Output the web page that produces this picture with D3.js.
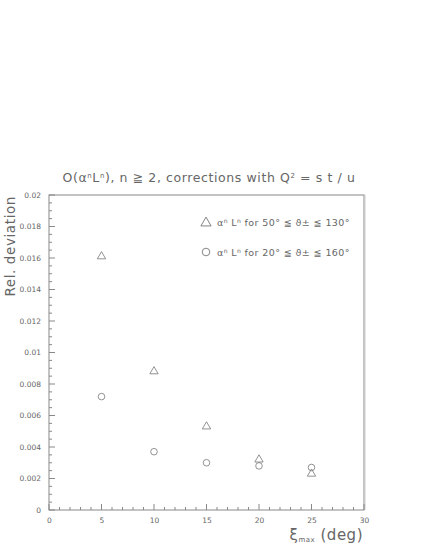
<!DOCTYPE html>
<html>
<head>
<meta charset="utf-8">
<script src="https://cdn.jsdelivr.net/npm/d3@7"></script>
<style>
  body { margin: 0; background: #fff; }
  text { font-family: "DejaVu Sans", sans-serif; fill: #666; }
</style>
</head>
<body>
<svg id="chart" width="425" height="550"></svg>
<script>
// data
var xiMax = [5, 10, 15, 20, 25];
var devNarrow = [0.0161, 0.0088, 0.0053, 0.0032, 0.0023];   // triangles, 50..130 deg
var devWide = [0.0072, 0.0037, 0.0030, 0.0028, 0.0027];     // circles, 20..160 deg
var xTicks = [0, 5, 10, 15, 20, 25, 30];
var yTicks = [0, 0.002, 0.004, 0.006, 0.008, 0.01, 0.012, 0.014, 0.016, 0.018, 0.02];

var svg = d3.select("#chart");
var pl = 49, pr = 364, pt = 195, pb = 510;
var ink = "#888";

var x = d3.scaleLinear().domain([0, 30]).range([pl, pr]);
var y = d3.scaleLinear().domain([0, 0.02]).range([pb, pt]);

// frame
svg.append("rect")
  .attr("x", pl).attr("y", pt)
  .attr("width", pr - pl).attr("height", pb - pt)
  .attr("fill", "none").attr("stroke", ink).attr("stroke-width", 1);
svg.append("line")
  .attr("x1", pr + 1).attr("x2", pr + 1).attr("y1", pt).attr("y2", pb)
  .attr("stroke", "#ccc");

// minor ticks (inside the frame)
var xMinor = d3.range(0, 31, 1);
svg.selectAll(".xminor").data(xMinor).enter().append("line")
  .attr("x1", d => x(d)).attr("x2", d => x(d))
  .attr("y1", pb).attr("y2", d => d % 5 == 0 ? pb - 6 : pb - 3)
  .attr("stroke", ink);
var yMinor = d3.range(0, 41).map(i => i * 0.0005);
svg.selectAll(".yminor").data(yMinor).enter().append("line")
  .attr("y1", d => y(d)).attr("y2", d => y(d))
  .attr("x1", pl).attr("x2", (d, i) => i % 4 == 0 ? pl + 6 : pl + 3)
  .attr("stroke", ink);

// tick labels through axes, domain and tick lines hidden
var xAxis = svg.append("g")
  .attr("transform", "translate(0," + pb + ")")
  .call(d3.axisBottom(x).tickValues(xTicks).tickSize(0).tickPadding(8).tickFormat(d3.format("d")));
var yAxis = svg.append("g")
  .attr("transform", "translate(" + pl + ",0)")
  .call(d3.axisLeft(y).tickValues(yTicks).tickSize(0).tickPadding(8).tickFormat(d => d == 0 ? "0" : String(+d.toFixed(4))));
[xAxis, yAxis].forEach(function(a){
  a.select(".domain").remove();
  a.selectAll("text").attr("font-size", 7.5).attr("fill", "#777").attr("font-family", "DejaVu Sans, sans-serif");
});

// triangles
var tri = d3.symbol().type(d3.symbolTriangle).size(30);
svg.selectAll(".tri").data(xiMax).enter().append("path")
  .attr("d", tri)
  .attr("transform", (d, i) => "translate(" + x(d) + "," + y(devNarrow[i]) + ")")
  .attr("fill", "none").attr("stroke", "#777").attr("stroke-width", 0.8);

// circles
svg.selectAll(".circ").data(xiMax).enter().append("circle")
  .attr("cx", d => x(d))
  .attr("cy", (d, i) => y(devWide[i]))
  .attr("r", 3.3)
  .attr("fill", "none").attr("stroke", "#777").attr("stroke-width", 0.8);

// title
var title = svg.append("text")
  .attr("x", 209).attr("y", 182)
  .attr("text-anchor", "middle").attr("font-size", 12.5)
  .attr("letter-spacing", 0.6);
title.append("tspan").text("O(\u03b1");
title.append("tspan").attr("dy", -4).attr("font-size", 7).text("n");
title.append("tspan").attr("dy", 4).text("L");
title.append("tspan").attr("dy", -4).attr("font-size", 7).text("n");
title.append("tspan").attr("dy", 4).text("), n \u2267 2, corrections with Q");
title.append("tspan").attr("dy", -4).attr("font-size", 7).text("2");
title.append("tspan").attr("dy", 4).text(" = s t / u");

// axis titles
svg.append("text")
  .attr("transform", "translate(15,196) rotate(-90)")
  .attr("text-anchor", "end").attr("font-size", 13.5).attr("letter-spacing", 0.6)
  .text("Rel. deviation");

var xt = svg.append("text")
  .attr("x", 363).attr("y", 540)
  .attr("text-anchor", "end").attr("font-size", 15).attr("letter-spacing", 0.5);
xt.append("tspan").text("\u03be");
xt.append("tspan").attr("font-size", 7).attr("dy", 2).text("max");
xt.append("tspan").attr("dy", -2).text(" (deg)");

// legend
var legend = [
  {label: " for 50\u00b0 \u2266 \u03d1\u00b1 \u2266 130\u00b0", shape: "tri", yy: 222},
  {label: " for 20\u00b0 \u2266 \u03d1\u00b1 \u2266 160\u00b0", shape: "circ", yy: 252}
];
legend.forEach(function(l){
  if (l.shape == "tri") {
    svg.append("path").attr("d", d3.symbol().type(d3.symbolTriangle).size(45))
      .attr("transform", "translate(206," + (l.yy + 1) + ")")
      .attr("fill", "none").attr("stroke", "#666").attr("stroke-width", 0.8);
  } else {
    svg.append("circle").attr("cx", 206).attr("cy", l.yy).attr("r", 3.8)
      .attr("fill", "none").attr("stroke", "#666").attr("stroke-width", 0.8);
  }
  var t = svg.append("text").attr("x", 217).attr("y", l.yy + 3.5)
    .attr("font-size", 9.5).attr("letter-spacing", 0.4);
  t.append("tspan").text("\u03b1");
  t.append("tspan").attr("dy", -3).attr("font-size", 6).text("n");
  t.append("tspan").attr("dy", 3).text(" L");
  t.append("tspan").attr("dy", -3).attr("font-size", 6).text("n");
  t.append("tspan").attr("dy", 3).text(l.label);
});
</script>
</body>
</html>
